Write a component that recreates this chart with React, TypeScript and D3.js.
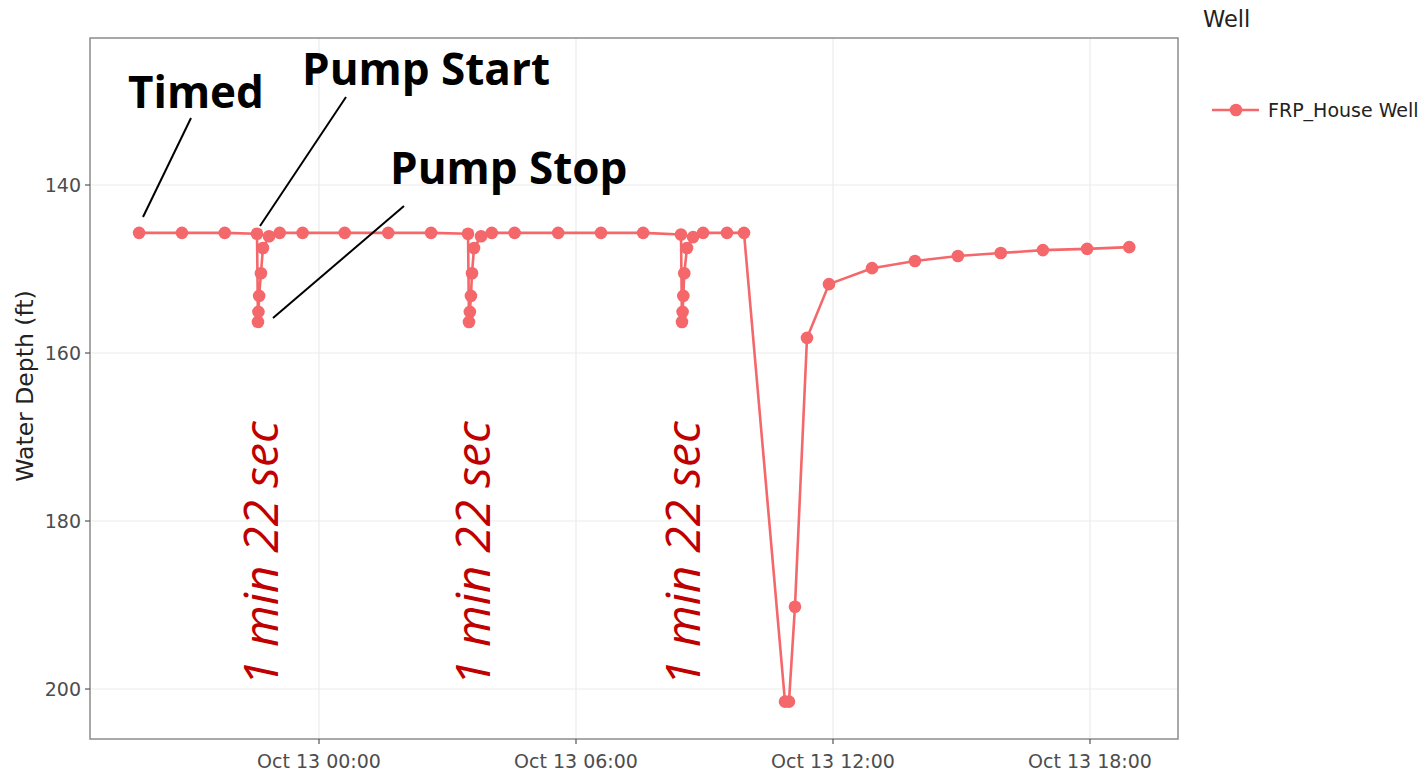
import React from "react";
import * as d3 from "d3";

const times = [
  "2023-10-12T19:48:00", "2023-10-12T20:48:00", "2023-10-12T21:48:00",
  "2023-10-12T22:33:10", "2023-10-12T22:34:32", "2023-10-12T22:35:10", "2023-10-12T22:36:10",
  "2023-10-12T22:38:40", "2023-10-12T22:41:30", "2023-10-12T22:50:00", "2023-10-12T23:05:00",
  "2023-10-12T23:37:00", "2023-10-13T00:36:00", "2023-10-13T01:37:00", "2023-10-13T02:37:00",
  "2023-10-13T03:28:45", "2023-10-13T03:30:07", "2023-10-13T03:31:20", "2023-10-13T03:32:50",
  "2023-10-13T03:34:20", "2023-10-13T03:37:10", "2023-10-13T03:47:00", "2023-10-13T04:02:00",
  "2023-10-13T04:34:00", "2023-10-13T05:35:00", "2023-10-13T06:35:00", "2023-10-13T07:34:00",
  "2023-10-13T08:27:05", "2023-10-13T08:28:27", "2023-10-13T08:29:20", "2023-10-13T08:30:20",
  "2023-10-13T08:31:40", "2023-10-13T08:35:30", "2023-10-13T08:44:00", "2023-10-13T08:58:00",
  "2023-10-13T09:31:30", "2023-10-13T09:55:20",
  "2023-10-13T10:52:45", "2023-10-13T10:58:20", "2023-10-13T11:06:45", "2023-10-13T11:23:35",
  "2023-10-13T11:54:25", "2023-10-13T12:54:40", "2023-10-13T13:54:50", "2023-10-13T14:55:00",
  "2023-10-13T15:55:00", "2023-10-13T16:54:00", "2023-10-13T17:56:00", "2023-10-13T18:55:00",
];

const depths = [
  145.7, 145.7, 145.7,
  145.8, 156.3, 155.1, 153.2,
  150.5, 147.5, 146.1, 145.7,
  145.7, 145.7, 145.7, 145.7,
  145.8, 156.3, 155.1, 153.2,
  150.5, 147.5, 146.1, 145.7,
  145.7, 145.7, 145.7, 145.7,
  145.9, 156.3, 155.1, 153.2,
  150.5, 147.5, 146.2, 145.7,
  145.7, 145.7,
  201.5, 201.5, 190.2, 158.2,
  151.8, 149.9, 149.05, 148.45,
  148.1, 147.75, 147.6, 147.4,
];

const yTicks = [140, 160, 180, 200];
const xDomain = ["2023-10-12T18:39:13", "2023-10-13T20:03:17"];
const yDomain = [122.5, 205.95];
const seriesName = "FRP_House Well";
const legendTitle = "Well";
const yTitle = "Water Depth (ft)";
const annotations = ["Timed", "Pump Start", "Pump Stop"];
const durationLabel = "1 min 22 sec";

const parse = d3.timeParse("%Y-%m-%dT%H:%M:%S");
const fmt = d3.timeFormat("%b %d %H:%M");

const COLOR = "#F4676A";
const FONT = "DejaVu Sans, Verdana, sans-serif";

export default function App() {
  const left = 90, right = 1178, top = 38, bottom = 739;
  const x = d3.scaleTime().domain(xDomain.map((s) => parse(s) as Date)).range([left, right]);
  const y = d3.scaleLinear().domain(yDomain).range([top, bottom]);
  const data = times.map((t, i) => ({ t: parse(t) as Date, v: depths[i] }));
  const line = d3.line<{ t: Date; v: number }>().x((d) => x(d.t)).y((d) => y(d.v));
  const xTicks = x.ticks(d3.timeHour.every(6) as any);

  return (
    <svg width={1425} height={773} style={{ position: "absolute", left: 0, top: 0, background: "#fff" }}>
      <rect x={0} y={0} width={1425} height={773} fill="#fff" />
      {yTicks.map((t) => (
        <line key={"gy" + t} x1={left} x2={right} y1={y(t)} y2={y(t)} stroke="#ebebeb" strokeWidth={1.2} />
      ))}
      {xTicks.map((t, i) => (
        <line key={"gx" + i} x1={x(t)} x2={x(t)} y1={top} y2={bottom} stroke="#ebebeb" strokeWidth={1.2} />
      ))}
      <path d={line(data) || ""} fill="none" stroke={COLOR} strokeWidth={2.6} strokeLinejoin="round" />
      {data.map((d, i) => (
        <circle key={"p" + i} cx={x(d.t)} cy={y(d.v)} r={6.3} fill={COLOR} />
      ))}
      <rect x={left} y={top} width={right - left} height={bottom - top} fill="none" stroke="#8c8c8c" strokeWidth={1.5} />
      {yTicks.map((t) => (
        <g key={"ty" + t}>
          <line x1={left - 5} x2={left} y1={y(t)} y2={y(t)} stroke="#555" strokeWidth={1.2} />
          <text x={left - 9} y={y(t)} dy="0.36em" textAnchor="end" fontFamily={FONT} fontSize={19} fill="#4d4d4d">
            {t}
          </text>
        </g>
      ))}
      {xTicks.map((t, i) => (
        <g key={"tx" + i}>
          <line x1={x(t)} x2={x(t)} y1={bottom} y2={bottom + 5} stroke="#555" strokeWidth={1.2} />
          <text x={x(t)} y={768} textAnchor="middle" fontFamily={FONT} fontSize={19} fill="#4d4d4d">
            {fmt(t)}
          </text>
        </g>
      ))}
      <text transform="translate(33,386) rotate(-90)" textAnchor="middle" fontFamily={FONT} fontSize={23.5} fill="#222">
        {yTitle}
      </text>
      <text x={1203} y={27} fontFamily={FONT} fontSize={22.5} fill="#222">
        {legendTitle}
      </text>
      <line x1={1212} x2={1259} y1={110} y2={110} stroke={COLOR} strokeWidth={2.6} />
      <circle cx={1236} cy={110} r={6.3} fill={COLOR} />
      <text x={1268} y={117} fontFamily={FONT} fontSize={19} fill="#222">
        {seriesName}
      </text>
      <g fontFamily="Open Sans, sans-serif" fontWeight={700} fontSize={44} fill="#000">
        <text x={128} y={108}>{annotations[0]}</text>
        <text x={302} y={85}>{annotations[1]}</text>
        <text x={390} y={184}>{annotations[2]}</text>
      </g>
      <g stroke="#000" strokeWidth={2}>
        <line x1={191} y1={118} x2={143} y2={217} />
        <line x1={346} y1={97} x2={260} y2={226} />
        <line x1={404} y1={206} x2={273} y2={318} />
      </g>
      <g fontFamily="Open Sans, sans-serif" fontStyle="italic" fontSize={48} fill="#C00000">
        <text transform="translate(278,686) rotate(-90)">{durationLabel}</text>
        <text transform="translate(490,686) rotate(-90)">{durationLabel}</text>
        <text transform="translate(700,686) rotate(-90)">{durationLabel}</text>
      </g>
    </svg>
  );
}
